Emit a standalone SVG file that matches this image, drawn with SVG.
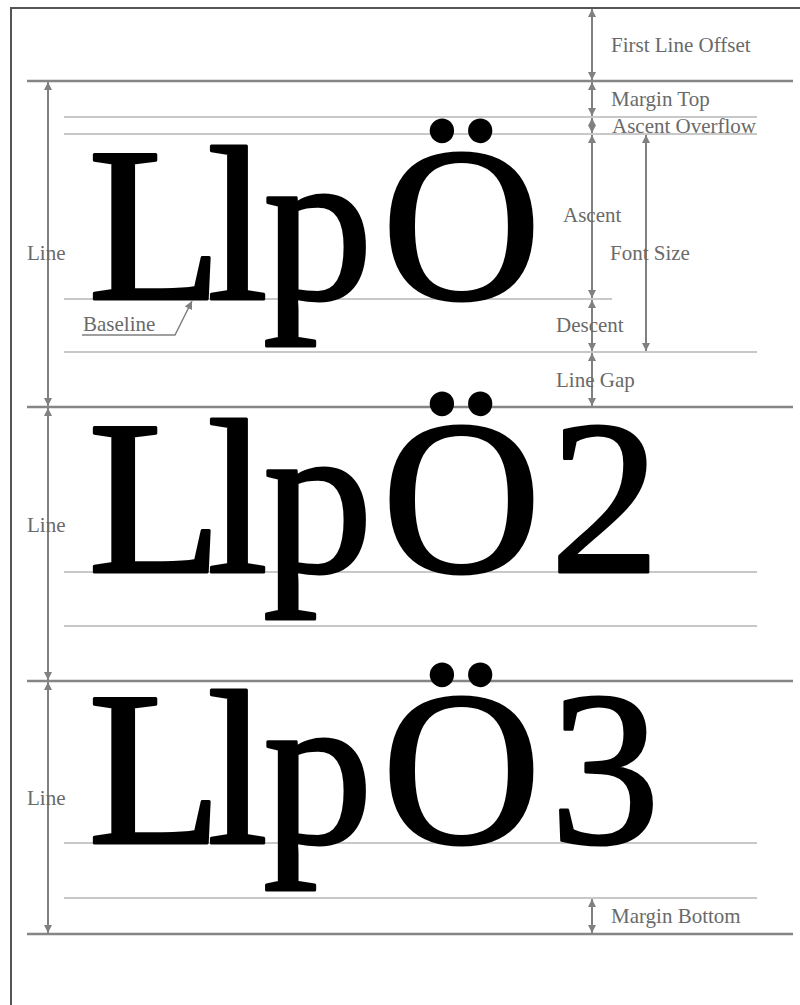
<svg xmlns="http://www.w3.org/2000/svg" width="800" height="1005" viewBox="0 0 800 1005">
<defs>
<style>
.frame{fill:none;stroke:#555;stroke-width:2}
.dark{stroke:#858585;stroke-width:2.5;fill:none}
.light{stroke:#c8c8c8;stroke-width:2;fill:none}
.dim{stroke:#808080;stroke-width:2;fill:none;marker-start:url(#ah);marker-end:url(#ah)}
.ptr{stroke:#808080;stroke-width:1.5;fill:none;marker-end:url(#ah)}
.lbl{font-family:"Liberation Serif","Times New Roman",serif;font-size:21px;fill:#6a6a6a}
.big{font-family:"Liberation Serif","Times New Roman",serif;font-size:220px;fill:#000;stroke:#000;stroke-width:3;stroke-linejoin:round}
</style>
<marker id="ah" viewBox="0 0 10 10" refX="10" refY="5" markerWidth="9" markerHeight="8" orient="auto-start-reverse" markerUnits="userSpaceOnUse">
<path d="M0,0 L10,5 L0,10 z" fill="#808080"/>
</marker>
</defs>
<rect width="800" height="1005" fill="#fff"/>
<path class="frame" d="M11,1005 V8 H800"/>
<g id="guides">
<line class="light" x1="64" y1="117" x2="757" y2="117"/>
<line class="light" x1="64" y1="134" x2="757" y2="134"/>
<line class="light" x1="64" y1="299" x2="612" y2="299"/>
<line class="light" x1="64" y1="352" x2="757" y2="352"/>
<line class="light" x1="64" y1="572" x2="757" y2="572"/>
<line class="light" x1="64" y1="626" x2="757" y2="626"/>
<line class="light" x1="64" y1="843" x2="757" y2="843"/>
<line class="light" x1="64" y1="898" x2="757" y2="898"/>
<line class="dark" x1="27" y1="81" x2="793" y2="81"/>
<line class="dark" x1="27" y1="407" x2="793" y2="407"/>
<line class="dark" x1="27" y1="681" x2="793" y2="681"/>
<line class="dark" x1="27" y1="934" x2="793" y2="934"/>
</g>
<g id="glyphs">
<text class="big" x="88 207 263 382" y="299">LlpÖ</text>
<text class="big" x="88 207 263 382 550" y="572">LlpÖ2</text>
<text class="big" x="88 207 263 382 550" y="843">LlpÖ3</text>
</g>
<g id="connectors">
<line class="dim" x1="592" y1="9" x2="592" y2="80"/>
<line class="dim" x1="592" y1="82" x2="592" y2="116"/>
<line class="dim" x1="592" y1="118" x2="592" y2="133"/>
<line class="dim" x1="592" y1="135" x2="592" y2="298"/>
<line class="dim" x1="592" y1="300" x2="592" y2="351"/>
<line class="dim" x1="592" y1="353" x2="592" y2="406"/>
<line class="dim" x1="592" y1="899" x2="592" y2="933"/>
<line class="dim" x1="646" y1="135" x2="646" y2="351"/>
<line class="dim" x1="48" y1="82" x2="48" y2="406"/>
<line class="dim" x1="48" y1="408" x2="48" y2="680"/>
<line class="dim" x1="48" y1="682" x2="48" y2="933"/>
<polyline class="ptr" points="82,335 175,335 192,301"/>
</g>
<g id="labels">
<text class="lbl" x="611" y="52">First Line Offset</text>
<text class="lbl" x="611" y="106">Margin Top</text>
<text class="lbl" x="612" y="133">Ascent Overflow</text>
<text class="lbl" x="563" y="222">Ascent</text>
<text class="lbl" x="610" y="260">Font Size</text>
<text class="lbl" x="556" y="332">Descent</text>
<text class="lbl" x="556" y="387">Line Gap</text>
<text class="lbl" x="611" y="923">Margin Bottom</text>
<text class="lbl" x="27" y="260">Line</text>
<text class="lbl" x="27" y="532">Line</text>
<text class="lbl" x="27" y="805">Line</text>
<text class="lbl" x="83" y="331">Baseline</text>
</g>
</svg>
